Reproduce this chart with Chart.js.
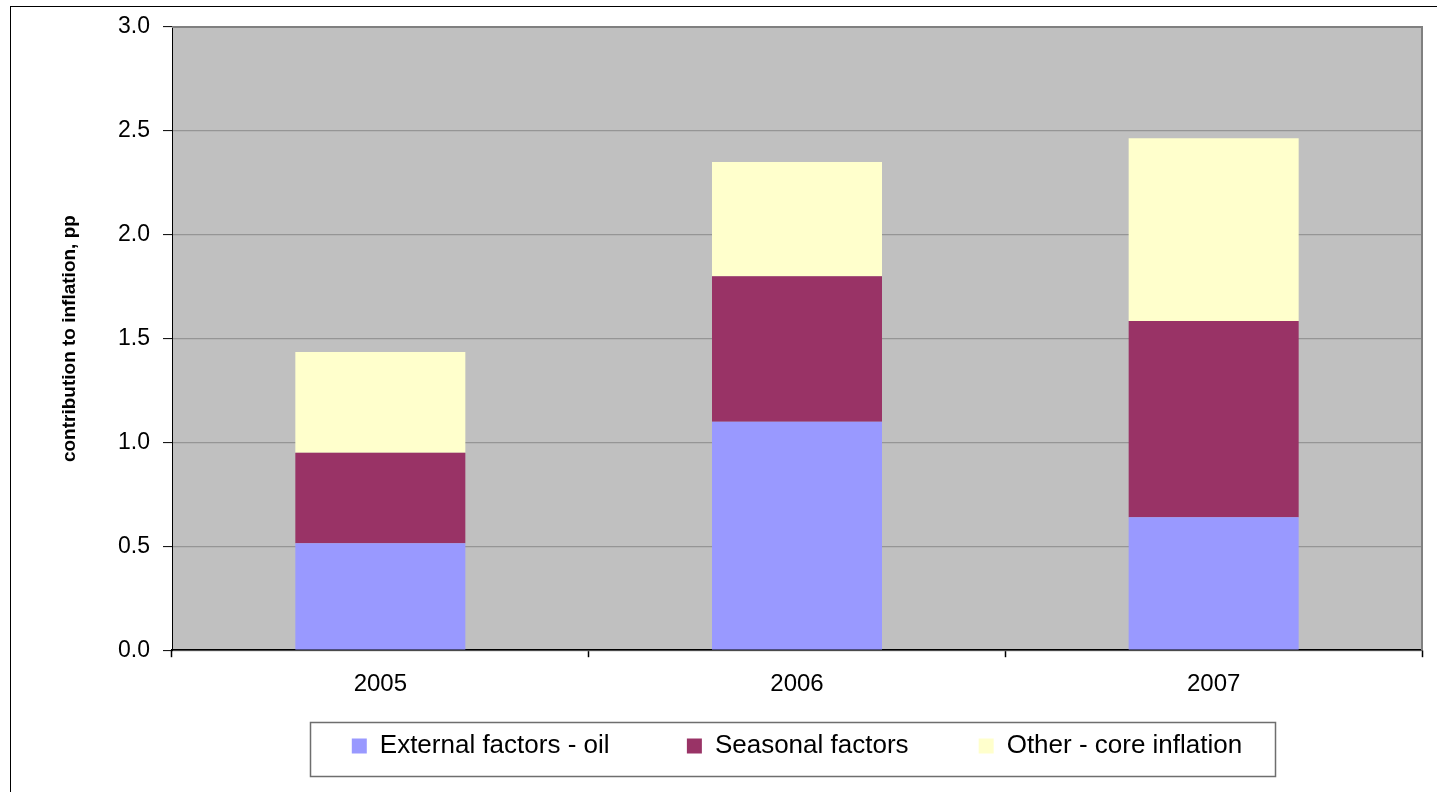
<!DOCTYPE html>
<html>
<head>
<meta charset="utf-8">
<script src="https://cdn.jsdelivr.net/npm/chart.js@4/dist/chart.umd.min.js"></script>
<style>
  html, body { margin: 0; padding: 0; background: #ffffff; }
  canvas { display: block; }
</style>
</head>
<body>
<canvas id="c" width="1437" height="792"></canvas>
<script>
const categories = ['2005', '2006', '2007'];
const oil = [0.515, 1.10, 0.64];
const seasonal = [0.435, 0.70, 0.945];
const other = [0.485, 0.55, 0.88];
const seriesNames = ['External factors - oil', 'Seasonal factors', 'Other - core inflation'];
const seriesColors = ['#9999FF', '#993366', '#FFFFCC'];
const yTitle = 'contribution to inflation, pp';

Chart.defaults.font.family = "'Liberation Sans', Arial, sans-serif";
Chart.defaults.color = '#000000';

const legendGapSpaces = [6, 5];

const framePlugin = {
  id: 'frame',
  beforeDraw(chart) {
    const ctx = chart.ctx;
    const a = chart.chartArea;
    ctx.save();
    ctx.fillStyle = '#ffffff';
    ctx.fillRect(0, 0, chart.width, chart.height);
    ctx.strokeStyle = '#000000';
    ctx.lineWidth = 1;
    ctx.strokeRect(10.5, 6.5, chart.width + 20, chart.height + 20);
    ctx.fillStyle = '#C0C0C0';
    ctx.fillRect(a.left, a.top, a.right - a.left, a.bottom - a.top);
    ctx.restore();
  },
  afterDraw(chart) {
    const ctx = chart.ctx;
    const a = chart.chartArea;
    ctx.save();
    ctx.strokeStyle = '#808080';
    ctx.lineWidth = 2;
    ctx.beginPath();
    ctx.moveTo(a.left, a.top);
    ctx.lineTo(a.right, a.top);
    ctx.lineTo(a.right, a.bottom);
    ctx.stroke();
    const hb = chart.legend.legendHitBoxes;
    if (hb && hb.length) {
      const first = hb[0], last = hb[hb.length - 1];
      const l = Math.round(first.left - 42) + 0.5;
      const r = Math.round(last.left + last.width + 33) + 0.5;
      const t = Math.round(first.top - 11) + 0.5;
      const b = Math.round(first.top + 43) + 0.5;
      ctx.strokeStyle = '#6e6e6e';
      ctx.lineWidth = 1.5;
      ctx.strokeRect(l, t, r - l, b - t);
    }
    ctx.restore();
  }
};

new Chart(document.getElementById('c'), {
  type: 'bar',
  data: {
    labels: categories,
    datasets: [
      { label: seriesNames[0], data: oil, backgroundColor: seriesColors[0] },
      { label: seriesNames[1], data: seasonal, backgroundColor: seriesColors[1] },
      { label: seriesNames[2], data: other, backgroundColor: seriesColors[2] }
    ]
  },
  options: {
    responsive: false,
    animation: false,
    devicePixelRatio: 1,
    datasets: { bar: { categoryPercentage: 1.0, barPercentage: 0.408, borderWidth: 0 } },
    layout: { padding: { left: 0, right: 15, top: 27, bottom: 23 } },
    plugins: {
      tooltip: { enabled: false },
      legend: {
        position: 'bottom',
        fullSize: false,
        labels: {
          boxWidth: 15,
          boxHeight: 15,
          padding: 34,
          color: '#000000',
          font: { size: 26 },
          generateLabels(chart) {
            const items = Chart.defaults.plugins.legend.labels.generateLabels(chart);
            items.forEach((it, i) => {
              if (i < legendGapSpaces.length) it.text = it.text + ' '.repeat(legendGapSpaces[i]);
            });
            return items;
          }
        }
      }
    },
    scales: {
      x: {
        stacked: true,
        offset: true,
        afterFit(scale) { scale.height = scale.height - 13; },
        grid: {
          display: true,
          offset: true,
          drawOnChartArea: false,
          tickLength: 7,
          tickColor: '#000000',
          tickWidth: 1.5
        },
        border: { display: true, color: '#000000', width: 1.5 },
        ticks: { color: '#000000', font: { size: 24 }, padding: 13, maxRotation: 0 }
      },
      y: {
        stacked: true,
        min: 0,
        max: 3,
        afterFit(scale) { scale.width = 172; },
        grid: {
          color: '#959595',
          lineWidth: 1.2,
          tickLength: 9,
          tickColor: '#000000',
          tickWidth: 1
        },
        border: { display: true, color: '#000000', width: 1 },
        ticks: {
          stepSize: 0.5,
          color: '#000000',
          font: { size: 23 },
          padding: 13,
          callback: (v) => Number(v).toFixed(1)
        },
        title: {
          display: true,
          text: yTitle,
          color: '#000000',
          font: { size: 19, weight: 'bold' },
          padding: { top: 58, bottom: 0 }
        }
      }
    }
  },
  plugins: [framePlugin]
});
</script>
</body>
</html>
